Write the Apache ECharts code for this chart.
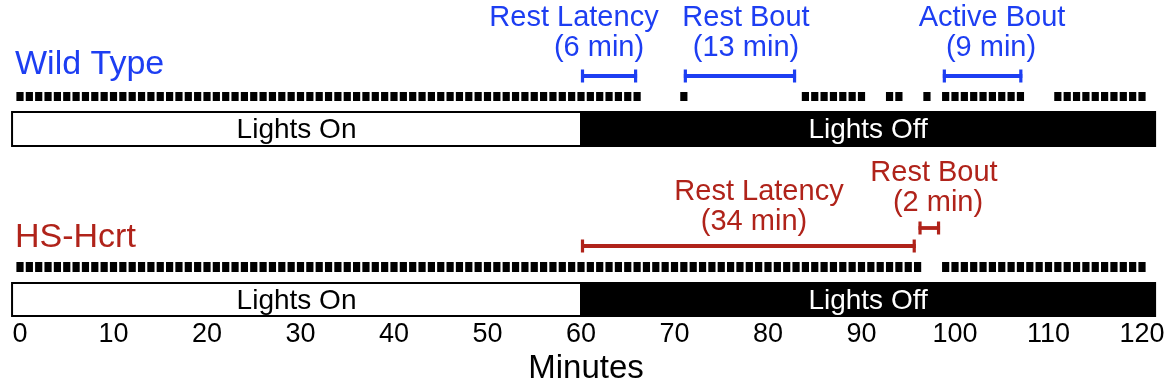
<!DOCTYPE html>
<html><head><meta charset="utf-8">
<script src="https://cdn.jsdelivr.net/npm/echarts@6/dist/echarts.min.js"></script>
<style>html,body{margin:0;padding:0;background:#fff}#c{width:1172px;height:386px}</style>
</head><body><div id="c"></div>
<script>
// ---- data ----
const tickLabels = [0, 10, 20, 30, 40, 50, 60, 70, 80, 90, 100, 110, 120];
const axisTitle = 'Minutes';
// minutes with activity (one dash per minute)
const wtActive = [0,1,2,3,4,5,6,7,8,9,10,11,12,13,14,15,16,17,18,19,20,21,22,23,24,25,26,27,28,29,30,31,32,33,34,35,36,37,38,39,40,41,42,43,44,45,46,47,48,49,50,51,52,53,54,55,56,57,58,59,60,61,62,63,64,65,66,
  71, 84,85,86,87,88,89,90, 93,94, 97, 99,100,101,102,103,104,105,106,107, 111,112,113,114,115,116,117,118,119,120];
const hsActive = [0,1,2,3,4,5,6,7,8,9,10,11,12,13,14,15,16,17,18,19,20,21,22,23,24,25,26,27,28,29,30,31,32,33,34,35,36,37,38,39,40,41,42,43,44,45,46,47,48,49,50,51,52,53,54,55,56,57,58,59,60,61,62,63,64,65,66,67,68,69,70,71,72,73,74,75,76,77,78,79,80,81,82,83,84,85,86,87,88,89,90,91,92,93,94,95,96,
  99,100,101,102,103,104,105,106,107,108,109,110,111,112,113,114,115,116,117,118,119,120];
const lightsOn = [-0.85, 60];
const lightsOff = [60, 121.4];
const lightsNames = ['Lights On', 'Lights Off'];
const wtBouts = [[60, 66], [71, 83], [98.7, 107.2]];
const hsBouts = [[60, 95.8], [96.1, 98.4]];
const wtBoutLabels = [['Rest Latency', '(6 min)'], ['Rest Bout', '(13 min)'], ['Active Bout', '(9 min)']];
const hsBoutLabels = [['Rest Latency', '(34 min)'], ['Rest Bout', '(2 min)']];
const groupNames = ['Wild Type', 'HS-Hcrt'];

// ---- styles / layout ----
const BLUE = '#1d3ef2', RED = '#b0231a';
const FONT = 'Liberation Sans, Arial, Helvetica, sans-serif';
const layout = {
  wt: { dashY: 96.5, dashH: 9, boutY: [76, 76, 76], lightTop: 112, lightBot: 146, nameY: 65,
        labels: [[[574, 18], [599, 48]], [[746, 18], [746, 48]], [[992, 18], [991, 48]]] },
  hs: { dashY: 267, dashH: 10, boutY: [246, 228], lightTop: 283, lightBot: 316, nameY: 238,
        labels: [[[759, 192], [754, 222]], [[934, 173], [938, 203]]] }
};

function dashItem(L) {
  return function (params, api) {
    const c = api.coord([api.value(0), L.dashY]);
    const w = api.size([0.77, 0])[0];
    return { type: 'rect', shape: { x: c[0] - w / 2, y: c[1] - L.dashH / 2, width: w, height: L.dashH }, style: { fill: '#000' } };
  };
}
function boutItem(L, color) {
  return function (params, api) {
    const y = L.boutY[params.dataIndex];
    const a = api.coord([api.value(0), y]);
    const b = api.coord([api.value(1), y]);
    const st = { stroke: color, lineWidth: 3.8 };
    return { type: 'group', children: [
      { type: 'line', shape: { x1: a[0], y1: a[1], x2: b[0], y2: b[1] }, style: st },
      { type: 'line', shape: { x1: a[0] + 1.5, y1: a[1] - 6.5, x2: a[0] + 1.5, y2: a[1] + 6.5 }, style: { stroke: color, lineWidth: 3.2 } },
      { type: 'line', shape: { x1: b[0] - 1.5, y1: b[1] - 6.5, x2: b[0] - 1.5, y2: b[1] + 6.5 }, style: { stroke: color, lineWidth: 3.2 } }
    ] };
  };
}
function lightsItem(L) {
  return function (params, api) {
    const a = api.coord([api.value(0), L.lightTop]);
    const b = api.coord([api.value(1), L.lightBot]);
    const on = params.dataIndex === 0;
    return { type: 'group', children: [
      { type: 'rect', shape: { x: a[0], y: a[1], width: b[0] - a[0], height: b[1] - a[1] },
        style: { fill: on ? '#fff' : '#000', stroke: '#000', lineWidth: 2 } },
      { type: 'text', x: (a[0] + b[0]) / 2, y: (a[1] + b[1]) / 2 + 1.5,
        style: { text: lightsNames[params.dataIndex], fill: on ? '#000' : '#fff', font: '28px ' + FONT, align: 'center', verticalAlign: 'middle' } }
    ] };
  };
}
function labelGraphics(L, labels, color) {
  const out = [];
  labels.forEach((pair, i) => pair.forEach((t, j) => {
    out.push({ type: 'text', x: L.labels[i][j][0], y: L.labels[i][j][1],
      style: { text: t, fill: color, font: '29px ' + FONT, align: 'center', verticalAlign: 'middle' } });
  }));
  return out;
}

const x0 = 20, pxPerMin = 9.35, W = 1172;
const chart = echarts.init(document.getElementById('c'));
chart.setOption({
  animation: false,
  backgroundColor: '#fff',
  grid: { left: 0, right: 0, top: 0, bottom: 70, outerBoundsMode: 'none', containLabel: false },
  xAxis: {
    type: 'value', min: -x0 / pxPerMin, max: (W - x0) / pxPerMin,
    axisLine: { show: false }, axisTick: { show: false }, splitLine: { show: false },
    axisLabel: { customValues: tickLabels, fontSize: 27, color: '#000', fontFamily: FONT, margin: 5 },
    name: axisTitle, nameLocation: 'middle', nameGap: 33,
    nameTextStyle: { fontSize: 33, color: '#000', fontFamily: FONT }
  },
  yAxis: { type: 'value', min: 0, max: 316, inverse: true, show: false },
  series: [
    { type: 'custom', renderItem: lightsItem(layout.wt), data: [lightsOn, lightsOff], encode: { x: [0, 1] } },
    { type: 'custom', renderItem: lightsItem(layout.hs), data: [lightsOn, lightsOff], encode: { x: [0, 1] } },
    { type: 'custom', renderItem: dashItem(layout.wt), data: wtActive.map(m => [m]), encode: { x: 0 } },
    { type: 'custom', renderItem: dashItem(layout.hs), data: hsActive.map(m => [m]), encode: { x: 0 } },
    { type: 'custom', renderItem: boutItem(layout.wt, BLUE), data: wtBouts, encode: { x: [0, 1] } },
    { type: 'custom', renderItem: boutItem(layout.hs, RED), data: hsBouts, encode: { x: [0, 1] } }
  ],
  graphic: [
    { type: 'text', x: 15, y: layout.wt.nameY, style: { text: groupNames[0], fill: BLUE, font: '34px ' + FONT, verticalAlign: 'middle' } },
    { type: 'text', x: 15, y: layout.hs.nameY, style: { text: groupNames[1], fill: RED, font: '34px ' + FONT, verticalAlign: 'middle' } }
  ].concat(labelGraphics(layout.wt, wtBoutLabels, BLUE), labelGraphics(layout.hs, hsBoutLabels, RED))
});
</script></body></html>
